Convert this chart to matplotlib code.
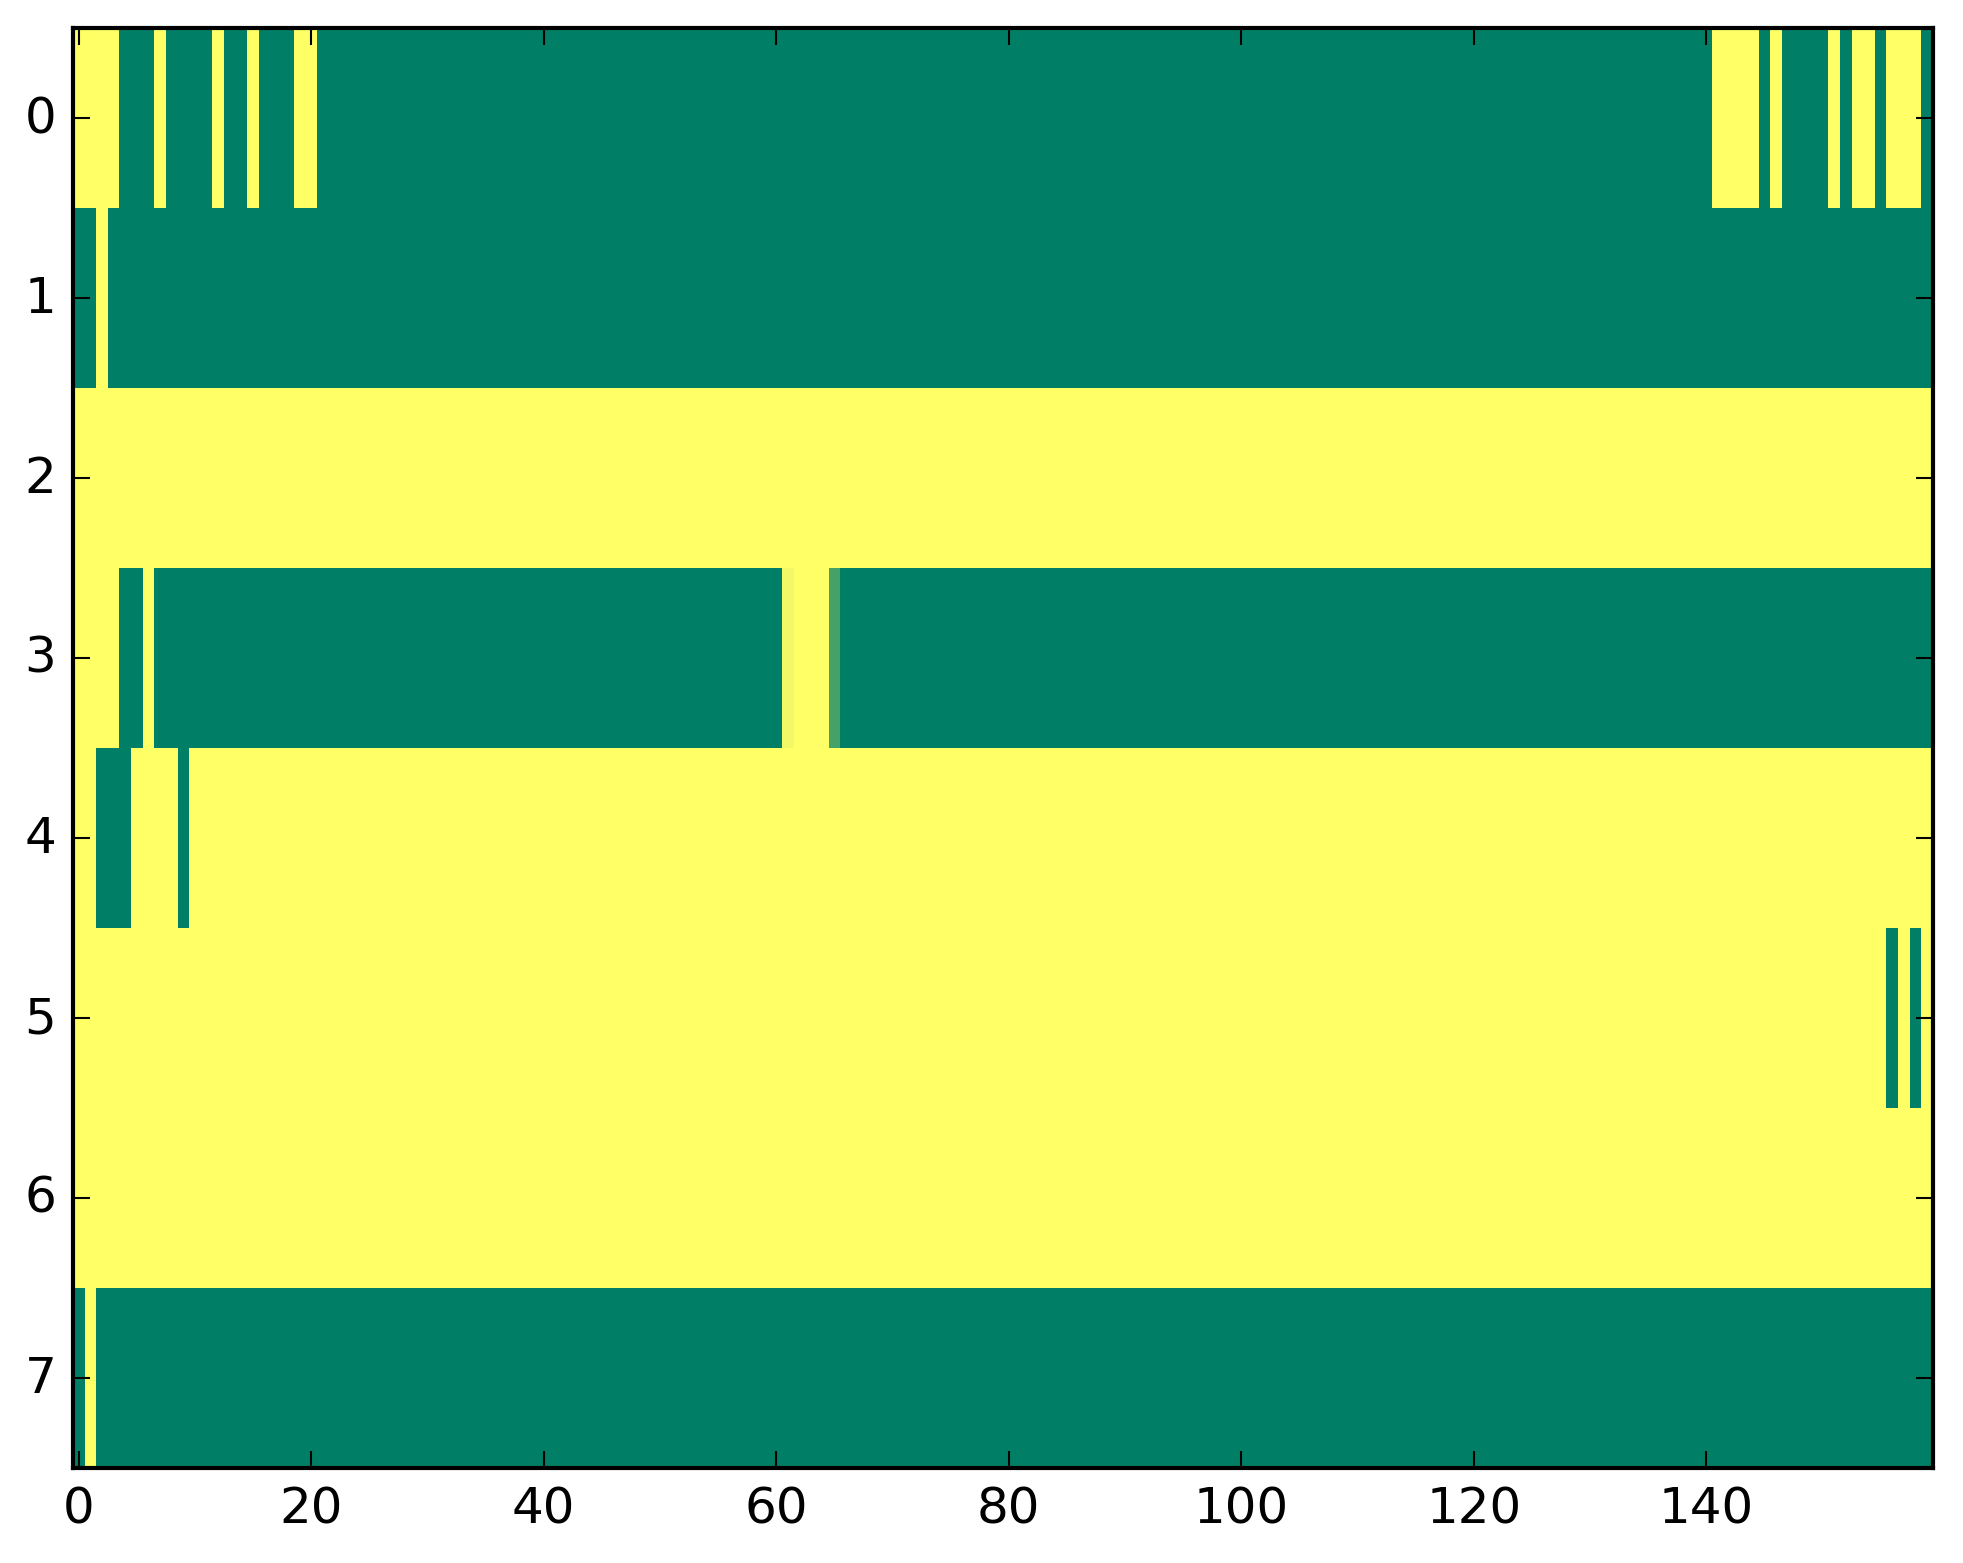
import numpy as np
import matplotlib
matplotlib.use('Agg')
from matplotlib import pyplot as plt

# each row as runs of (value, length), read left to right
row0 = [(1, 4), (0, 3), (1, 1), (0, 4), (1, 1), (0, 2), (1, 1), (0, 3), (1, 2),
        (0, 120), (1, 4), (0, 1), (1, 1), (0, 4), (1, 1), (0, 1), (1, 2), (0, 1),
        (1, 3), (0, 1)]
row1 = [(0, 2), (1, 1), (0, 157)]
row2 = [(1, 160)]
row3 = [(1, 4), (0, 2), (1, 1), (0, 54), (0.95, 1), (1, 3), (0.27, 1), (0, 94)]
row4 = [(1, 2), (0, 3), (1, 4), (0, 1), (1, 150)]
row5 = [(1, 156), (0, 1), (1, 1), (0, 1), (1, 1)]
row6 = [(1, 160)]
row7 = [(0, 1), (1, 1), (0, 158)]
rows = [row0, row1, row2, row3, row4, row5, row6, row7]


def expand(runs):
  vals = [v for v, n in runs]
  counts = [n for v, n in runs]
  return np.repeat(vals, counts)


data = np.array([expand(r) for r in rows])

plt.style.use('classic')
fig = plt.figure(figsize=(1963 / 300, 1564 / 300), dpi=300)
ax = fig.add_axes([73 / 1963, 95 / 1564, 1860 / 1963, 1440 / 1564])
ax.imshow(data, cmap='summer', aspect='auto', interpolation='nearest')
ax.set_yticks(range(8))
ax.set_xticks(range(0, 160, 20))
fig.savefig('out.png', dpi=300)
